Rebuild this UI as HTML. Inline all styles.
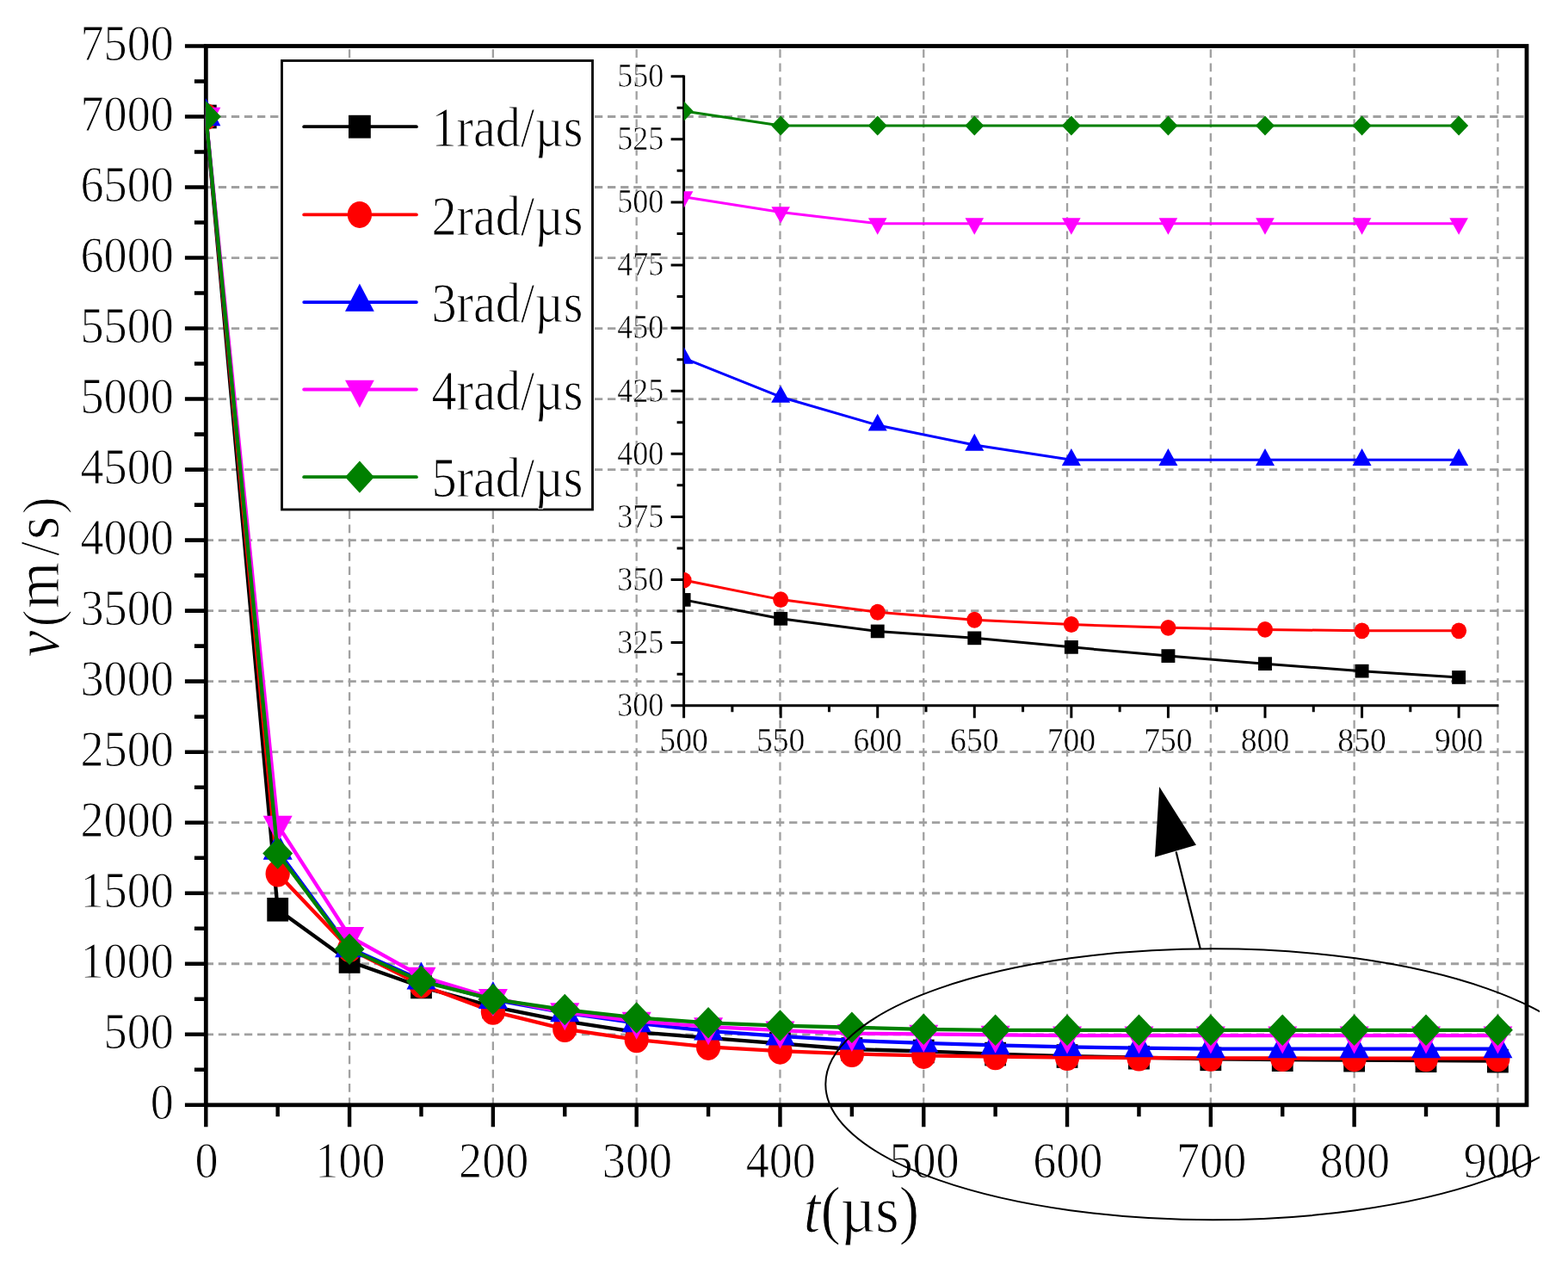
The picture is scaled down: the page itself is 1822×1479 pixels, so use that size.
<!DOCTYPE html><html><head><meta charset="utf-8"><style>html,body{margin:0;padding:0;background:#fff;}svg{display:block;}</style></head><body>
<svg width="1822" height="1479" viewBox="0 0 1822 1479" font-family="'Liberation Serif','Times New Roman',serif" stroke-width="1">
<style>text{stroke:#fff;}</style>
<defs><clipPath id="cm"><rect x="238.8" y="23.5" width="1535.2" height="1290.3"/></clipPath>
<clipPath id="ci"><rect x="794.6" y="40" width="966.9" height="779.7"/></clipPath>
<clipPath id="ce"><rect x="0" y="0" width="1789" height="1479"/></clipPath></defs>
<rect width="1822" height="1479" fill="#fff"/>
<path d="M406.09 1285V53.5M572.88 1285V53.5M739.67 1285V53.5M906.46 1285V53.5M1073.25 1285V53.5M1240.04 1285V53.5M1406.83 1285V53.5M1573.62 1285V53.5M1740.41 1285V53.5" stroke="#a0a0a0" stroke-width="2.3" stroke-dasharray="9.7 6.54" fill="none"/>
<path d="M238.7 1201.78H1774M238.7 1119.75H1774M238.7 1037.73H1774M238.7 955.71H1774M238.7 873.69H1774M238.7 791.66H1774M238.7 709.64H1774M238.7 627.62H1774M238.7 545.6H1774M238.7 463.57H1774M238.7 381.55H1774M238.7 299.53H1774M238.7 217.51H1774M238.7 135.48H1774" stroke="#a0a0a0" stroke-width="2.8" stroke-dasharray="9.3 5.775" fill="none"/>
<rect x="239.3" y="53.5" width="1534.7" height="1230.3" fill="none" stroke="#000" stroke-width="4.8"/>
<path d="M239.3 1283.8H214.9M239.3 1242.79H225.9M239.3 1201.78H214.9M239.3 1160.77H225.9M239.3 1119.75H214.9M239.3 1078.74H225.9M239.3 1037.73H214.9M239.3 996.72H225.9M239.3 955.71H214.9M239.3 914.7H225.9M239.3 873.69H214.9M239.3 832.68H225.9M239.3 791.66H214.9M239.3 750.65H225.9M239.3 709.64H214.9M239.3 668.63H225.9M239.3 627.62H214.9M239.3 586.61H225.9M239.3 545.6H214.9M239.3 504.59H225.9M239.3 463.57H214.9M239.3 422.56H225.9M239.3 381.55H214.9M239.3 340.54H225.9M239.3 299.53H214.9M239.3 258.52H225.9M239.3 217.51H214.9M239.3 176.5H225.9M239.3 135.48H214.9M239.3 94.47H225.9M239.3 53.46H214.9" stroke="#000" stroke-width="4.6" fill="none"/>
<path d="M239.3 1283.8V1309.3M322.69 1283.8V1297.3M406.09 1283.8V1309.3M489.49 1283.8V1297.3M572.88 1283.8V1309.3M656.27 1283.8V1297.3M739.67 1283.8V1309.3M823.07 1283.8V1297.3M906.46 1283.8V1309.3M989.86 1283.8V1297.3M1073.25 1283.8V1309.3M1156.64 1283.8V1297.3M1240.04 1283.8V1309.3M1323.43 1283.8V1297.3M1406.83 1283.8V1309.3M1490.22 1283.8V1297.3M1573.62 1283.8V1309.3M1657.01 1283.8V1297.3M1740.41 1283.8V1309.3" stroke="#000" stroke-width="4.4" fill="none"/>
<g clip-path="url(#cm)">
<polyline points="239.3,135.48 322.69,1056.76 406.09,1116.97 489.49,1146.49 572.88,1169.62 656.27,1186.36 739.67,1199.15 823.07,1205.88 906.46,1212.44 989.86,1219 1073.25,1221.46 1156.64,1224.58 1240.04,1227.04 1323.43,1228.68 1406.83,1230.32 1490.22,1231.14 1573.62,1231.63 1657.01,1232.13 1740.41,1232.62" fill="none" stroke="#000000" stroke-width="4.3" stroke-linejoin="round"/>
<rect x="226.9" y="121.68" width="24.8" height="27.6" fill="#000000"/>
<rect x="310.3" y="1042.96" width="24.8" height="27.6" fill="#000000"/>
<rect x="393.69" y="1103.17" width="24.8" height="27.6" fill="#000000"/>
<rect x="477.09" y="1132.69" width="24.8" height="27.6" fill="#000000"/>
<rect x="560.48" y="1155.82" width="24.8" height="27.6" fill="#000000"/>
<rect x="643.88" y="1172.56" width="24.8" height="27.6" fill="#000000"/>
<rect x="727.27" y="1185.35" width="24.8" height="27.6" fill="#000000"/>
<rect x="810.67" y="1192.08" width="24.8" height="27.6" fill="#000000"/>
<rect x="894.06" y="1198.64" width="24.8" height="27.6" fill="#000000"/>
<rect x="977.46" y="1205.2" width="24.8" height="27.6" fill="#000000"/>
<rect x="1060.85" y="1207.66" width="24.8" height="27.6" fill="#000000"/>
<rect x="1144.24" y="1210.78" width="24.8" height="27.6" fill="#000000"/>
<rect x="1227.64" y="1213.24" width="24.8" height="27.6" fill="#000000"/>
<rect x="1311.03" y="1214.88" width="24.8" height="27.6" fill="#000000"/>
<rect x="1394.43" y="1216.52" width="24.8" height="27.6" fill="#000000"/>
<rect x="1477.82" y="1217.34" width="24.8" height="27.6" fill="#000000"/>
<rect x="1561.22" y="1217.83" width="24.8" height="27.6" fill="#000000"/>
<rect x="1644.61" y="1218.33" width="24.8" height="27.6" fill="#000000"/>
<rect x="1728.01" y="1218.82" width="24.8" height="27.6" fill="#000000"/>
<polyline points="239.3,135.48 322.69,1014.93 406.09,1102.53 489.49,1144.36 572.88,1175.2 656.27,1195.54 739.67,1207.85 823.07,1216.38 906.46,1221.13 989.86,1224.42 1073.25,1226.38 1156.64,1227.68 1240.04,1228.5 1323.43,1229.01 1406.83,1229.3 1490.22,1229.52 1573.62,1229.63 1657.01,1229.71 1740.41,1229.71" fill="none" stroke="#ff0000" stroke-width="4.3" stroke-linejoin="round"/>
<ellipse cx="239.3" cy="135.48" rx="14.1" ry="15.5" fill="#ff0000"/>
<ellipse cx="322.69" cy="1014.93" rx="14.1" ry="15.5" fill="#ff0000"/>
<ellipse cx="406.09" cy="1102.53" rx="14.1" ry="15.5" fill="#ff0000"/>
<ellipse cx="489.49" cy="1144.36" rx="14.1" ry="15.5" fill="#ff0000"/>
<ellipse cx="572.88" cy="1175.2" rx="14.1" ry="15.5" fill="#ff0000"/>
<ellipse cx="656.27" cy="1195.54" rx="14.1" ry="15.5" fill="#ff0000"/>
<ellipse cx="739.67" cy="1207.85" rx="14.1" ry="15.5" fill="#ff0000"/>
<ellipse cx="823.07" cy="1216.38" rx="14.1" ry="15.5" fill="#ff0000"/>
<ellipse cx="906.46" cy="1221.13" rx="14.1" ry="15.5" fill="#ff0000"/>
<ellipse cx="989.86" cy="1224.42" rx="14.1" ry="15.5" fill="#ff0000"/>
<ellipse cx="1073.25" cy="1226.38" rx="14.1" ry="15.5" fill="#ff0000"/>
<ellipse cx="1156.64" cy="1227.68" rx="14.1" ry="15.5" fill="#ff0000"/>
<ellipse cx="1240.04" cy="1228.5" rx="14.1" ry="15.5" fill="#ff0000"/>
<ellipse cx="1323.43" cy="1229.01" rx="14.1" ry="15.5" fill="#ff0000"/>
<ellipse cx="1406.83" cy="1229.3" rx="14.1" ry="15.5" fill="#ff0000"/>
<ellipse cx="1490.22" cy="1229.52" rx="14.1" ry="15.5" fill="#ff0000"/>
<ellipse cx="1573.62" cy="1229.63" rx="14.1" ry="15.5" fill="#ff0000"/>
<ellipse cx="1657.01" cy="1229.71" rx="14.1" ry="15.5" fill="#ff0000"/>
<ellipse cx="1740.41" cy="1229.71" rx="14.1" ry="15.5" fill="#ff0000"/>
<polyline points="239.3,135.48 322.69,988.19 406.09,1101.55 489.49,1138.78 572.88,1161.42 656.27,1176.68 739.67,1188.65 823.07,1197.84 906.46,1203.91 989.86,1208.83 1073.25,1211.95 1156.64,1214.47 1240.04,1216.31 1323.43,1217.61 1406.83,1218.58 1490.22,1218.58 1573.62,1218.58 1657.01,1218.58 1740.41,1218.58" fill="none" stroke="#0000ff" stroke-width="4.3" stroke-linejoin="round"/>
<polygon points="239.3,114.15 256.3,146.15 222.3,146.15" fill="#0000ff"/>
<polygon points="322.69,966.86 339.69,998.86 305.69,998.86" fill="#0000ff"/>
<polygon points="406.09,1080.21 423.09,1112.21 389.09,1112.21" fill="#0000ff"/>
<polygon points="489.49,1117.45 506.49,1149.45 472.49,1149.45" fill="#0000ff"/>
<polygon points="572.88,1140.09 589.88,1172.09 555.88,1172.09" fill="#0000ff"/>
<polygon points="656.27,1155.35 673.27,1187.35 639.27,1187.35" fill="#0000ff"/>
<polygon points="739.67,1167.32 756.67,1199.32 722.67,1199.32" fill="#0000ff"/>
<polygon points="823.07,1176.51 840.07,1208.51 806.07,1208.51" fill="#0000ff"/>
<polygon points="906.46,1182.58 923.46,1214.58 889.46,1214.58" fill="#0000ff"/>
<polygon points="989.86,1187.5 1006.86,1219.5 972.86,1219.5" fill="#0000ff"/>
<polygon points="1073.25,1190.61 1090.25,1222.61 1056.25,1222.61" fill="#0000ff"/>
<polygon points="1156.64,1193.14 1173.64,1225.14 1139.64,1225.14" fill="#0000ff"/>
<polygon points="1240.04,1194.98 1257.04,1226.98 1223.04,1226.98" fill="#0000ff"/>
<polygon points="1323.43,1196.27 1340.43,1228.27 1306.43,1228.27" fill="#0000ff"/>
<polygon points="1406.83,1197.24 1423.83,1229.24 1389.83,1229.24" fill="#0000ff"/>
<polygon points="1490.22,1197.24 1507.22,1229.24 1473.22,1229.24" fill="#0000ff"/>
<polygon points="1573.62,1197.24 1590.62,1229.24 1556.62,1229.24" fill="#0000ff"/>
<polygon points="1657.01,1197.24 1674.01,1229.24 1640.01,1229.24" fill="#0000ff"/>
<polygon points="1740.41,1197.24 1757.41,1229.24 1723.41,1229.24" fill="#0000ff"/>
<polyline points="239.3,135.48 322.69,958.33 406.09,1087.77 489.49,1134.36 572.88,1159.62 656.27,1176.02 739.67,1186.36 823.07,1192.92 906.46,1197.18 989.86,1200.63 1073.25,1201.43 1156.64,1202.43 1240.04,1203.17 1323.43,1203.17 1406.83,1203.17 1490.22,1203.17 1573.62,1203.17 1657.01,1203.17 1740.41,1203.17" fill="none" stroke="#ff00ff" stroke-width="4.3" stroke-linejoin="round"/>
<polygon points="239.3,156.82 256.3,124.82 222.3,124.82" fill="#ff00ff"/>
<polygon points="322.69,979.67 339.69,947.67 305.69,947.67" fill="#ff00ff"/>
<polygon points="406.09,1109.1 423.09,1077.1 389.09,1077.1" fill="#ff00ff"/>
<polygon points="489.49,1155.69 506.49,1123.69 472.49,1123.69" fill="#ff00ff"/>
<polygon points="572.88,1180.95 589.88,1148.95 555.88,1148.95" fill="#ff00ff"/>
<polygon points="656.27,1197.36 673.27,1165.36 639.27,1165.36" fill="#ff00ff"/>
<polygon points="739.67,1207.69 756.67,1175.69 722.67,1175.69" fill="#ff00ff"/>
<polygon points="823.07,1214.25 840.07,1182.25 806.07,1182.25" fill="#ff00ff"/>
<polygon points="906.46,1218.52 923.46,1186.52 889.46,1186.52" fill="#ff00ff"/>
<polygon points="989.86,1221.96 1006.86,1189.96 972.86,1189.96" fill="#ff00ff"/>
<polygon points="1073.25,1222.77 1090.25,1190.77 1056.25,1190.77" fill="#ff00ff"/>
<polygon points="1156.64,1223.77 1173.64,1191.77 1139.64,1191.77" fill="#ff00ff"/>
<polygon points="1240.04,1224.51 1257.04,1192.51 1223.04,1192.51" fill="#ff00ff"/>
<polygon points="1323.43,1224.51 1340.43,1192.51 1306.43,1192.51" fill="#ff00ff"/>
<polygon points="1406.83,1224.51 1423.83,1192.51 1389.83,1192.51" fill="#ff00ff"/>
<polygon points="1490.22,1224.51 1507.22,1192.51 1473.22,1192.51" fill="#ff00ff"/>
<polygon points="1573.62,1224.51 1590.62,1192.51 1556.62,1192.51" fill="#ff00ff"/>
<polygon points="1657.01,1224.51 1674.01,1192.51 1640.01,1192.51" fill="#ff00ff"/>
<polygon points="1740.41,1224.51 1757.41,1192.51 1723.41,1192.51" fill="#ff00ff"/>
<polyline points="239.3,135.48 322.69,991.47 406.09,1102.86 489.49,1140.1 572.88,1160.93 656.27,1173.07 739.67,1182.42 823.07,1188.33 906.46,1191.61 989.86,1193.74 1073.25,1195.84 1156.64,1196.79 1240.04,1196.79 1323.43,1196.79 1406.83,1196.79 1490.22,1196.79 1573.62,1196.79 1657.01,1196.79 1740.41,1196.79" fill="none" stroke="#008000" stroke-width="4.3" stroke-linejoin="round"/>
<polygon points="239.3,117.23 256.8,135.48 239.3,153.73 221.8,135.48" fill="#008000"/>
<polygon points="322.69,973.22 340.19,991.47 322.69,1009.72 305.19,991.47" fill="#008000"/>
<polygon points="406.09,1084.61 423.59,1102.86 406.09,1121.11 388.59,1102.86" fill="#008000"/>
<polygon points="489.49,1121.85 506.99,1140.1 489.49,1158.35 471.99,1140.1" fill="#008000"/>
<polygon points="572.88,1142.68 590.38,1160.93 572.88,1179.18 555.38,1160.93" fill="#008000"/>
<polygon points="656.27,1154.82 673.77,1173.07 656.27,1191.32 638.77,1173.07" fill="#008000"/>
<polygon points="739.67,1164.17 757.17,1182.42 739.67,1200.67 722.17,1182.42" fill="#008000"/>
<polygon points="823.07,1170.08 840.57,1188.33 823.07,1206.58 805.57,1188.33" fill="#008000"/>
<polygon points="906.46,1173.36 923.96,1191.61 906.46,1209.86 888.96,1191.61" fill="#008000"/>
<polygon points="989.86,1175.49 1007.36,1193.74 989.86,1211.99 972.36,1193.74" fill="#008000"/>
<polygon points="1073.25,1177.59 1090.75,1195.84 1073.25,1214.09 1055.75,1195.84" fill="#008000"/>
<polygon points="1156.64,1178.54 1174.14,1196.79 1156.64,1215.04 1139.14,1196.79" fill="#008000"/>
<polygon points="1240.04,1178.54 1257.54,1196.79 1240.04,1215.04 1222.54,1196.79" fill="#008000"/>
<polygon points="1323.43,1178.54 1340.93,1196.79 1323.43,1215.04 1305.93,1196.79" fill="#008000"/>
<polygon points="1406.83,1178.54 1424.33,1196.79 1406.83,1215.04 1389.33,1196.79" fill="#008000"/>
<polygon points="1490.22,1178.54 1507.72,1196.79 1490.22,1215.04 1472.72,1196.79" fill="#008000"/>
<polygon points="1573.62,1178.54 1591.12,1196.79 1573.62,1215.04 1556.12,1196.79" fill="#008000"/>
<polygon points="1657.01,1178.54 1674.51,1196.79 1657.01,1215.04 1639.51,1196.79" fill="#008000"/>
<polygon points="1740.41,1178.54 1757.91,1196.79 1740.41,1215.04 1722.91,1196.79" fill="#008000"/>
</g>
<text transform="translate(201.8,1300.1) scale(0.91,1)" font-size="59.5" text-anchor="end">0</text>
<text transform="translate(201.8,1218.08) scale(0.91,1)" font-size="59.5" text-anchor="end">500</text>
<text transform="translate(201.8,1136.05) scale(0.91,1)" font-size="59.5" text-anchor="end">1000</text>
<text transform="translate(201.8,1054.03) scale(0.91,1)" font-size="59.5" text-anchor="end">1500</text>
<text transform="translate(201.8,972.01) scale(0.91,1)" font-size="59.5" text-anchor="end">2000</text>
<text transform="translate(201.8,889.99) scale(0.91,1)" font-size="59.5" text-anchor="end">2500</text>
<text transform="translate(201.8,807.96) scale(0.91,1)" font-size="59.5" text-anchor="end">3000</text>
<text transform="translate(201.8,725.94) scale(0.91,1)" font-size="59.5" text-anchor="end">3500</text>
<text transform="translate(201.8,643.92) scale(0.91,1)" font-size="59.5" text-anchor="end">4000</text>
<text transform="translate(201.8,561.9) scale(0.91,1)" font-size="59.5" text-anchor="end">4500</text>
<text transform="translate(201.8,479.87) scale(0.91,1)" font-size="59.5" text-anchor="end">5000</text>
<text transform="translate(201.8,397.85) scale(0.91,1)" font-size="59.5" text-anchor="end">5500</text>
<text transform="translate(201.8,315.83) scale(0.91,1)" font-size="59.5" text-anchor="end">6000</text>
<text transform="translate(201.8,233.81) scale(0.91,1)" font-size="59.5" text-anchor="end">6500</text>
<text transform="translate(201.8,151.78) scale(0.91,1)" font-size="59.5" text-anchor="end">7000</text>
<text transform="translate(201.8,69.76) scale(0.91,1)" font-size="59.5" text-anchor="end">7500</text>
<text transform="translate(240.1,1368.1) scale(0.91,1)" font-size="59.5" text-anchor="middle">0</text>
<text transform="translate(406.89,1368.1) scale(0.91,1)" font-size="59.5" text-anchor="middle">100</text>
<text transform="translate(573.68,1368.1) scale(0.91,1)" font-size="59.5" text-anchor="middle">200</text>
<text transform="translate(740.47,1368.1) scale(0.91,1)" font-size="59.5" text-anchor="middle">300</text>
<text transform="translate(907.26,1368.1) scale(0.91,1)" font-size="59.5" text-anchor="middle">400</text>
<text transform="translate(1074.05,1368.1) scale(0.91,1)" font-size="59.5" text-anchor="middle">500</text>
<text transform="translate(1240.84,1368.1) scale(0.91,1)" font-size="59.5" text-anchor="middle">600</text>
<text transform="translate(1407.63,1368.1) scale(0.91,1)" font-size="59.5" text-anchor="middle">700</text>
<text transform="translate(1574.42,1368.1) scale(0.91,1)" font-size="59.5" text-anchor="middle">800</text>
<text transform="translate(1741.21,1368.1) scale(0.91,1)" font-size="59.5" text-anchor="middle">900</text>
<text transform="translate(1001,1431) scale(0.926,1)" font-size="76" text-anchor="middle"><tspan font-style="italic">t</tspan>(µs)</text>
<text transform="translate(68,763) scale(1.057,1) rotate(-90)" font-size="70"><tspan x="-0.58" font-style="italic">v</tspan><tspan x="34.7" dy="1.9" font-size="60">(</tspan><tspan x="55.7" dy="-1.9">m</tspan><tspan x="117" font-size="61">/</tspan><tspan x="136.1">s</tspan><tspan x="165.8" dy="1.9" font-size="60">)</tspan></text>
<rect x="327.5" y="70.5" width="361" height="521.5" fill="#fff" stroke="#000" stroke-width="2.8"/>
<line x1="353.2" y1="147.2" x2="483.9" y2="147.2" stroke="#000000" stroke-width="3.8" stroke-linecap="round"/>
<rect x="405" y="133.8" width="25.8" height="26.8" fill="#000000"/>
<text transform="translate(501.4,170.4) scale(0.9,1)" font-size="64.8" text-anchor="start">1rad/µs</text>
<line x1="353.2" y1="249.4" x2="483.9" y2="249.4" stroke="#ff0000" stroke-width="3.8" stroke-linecap="round"/>
<ellipse cx="417.9" cy="249.4" rx="14.1" ry="15.5" fill="#ff0000"/>
<text transform="translate(501.4,272.6) scale(0.9,1)" font-size="64.8" text-anchor="start">2rad/µs</text>
<line x1="353.2" y1="351.1" x2="483.9" y2="351.1" stroke="#0000ff" stroke-width="3.8" stroke-linecap="round"/>
<polygon points="417.9,329.57 434.8,361.87 401,361.87" fill="#0000ff"/>
<text transform="translate(501.4,374.3) scale(0.9,1)" font-size="64.8" text-anchor="start">3rad/µs</text>
<line x1="353.2" y1="452.5" x2="483.9" y2="452.5" stroke="#ff00ff" stroke-width="3.8" stroke-linecap="round"/>
<polygon points="417.9,473.83 434.8,441.83 401,441.83" fill="#ff00ff"/>
<text transform="translate(501.4,475.7) scale(0.9,1)" font-size="64.8" text-anchor="start">4rad/µs</text>
<line x1="353.2" y1="554.2" x2="483.9" y2="554.2" stroke="#008000" stroke-width="3.8" stroke-linecap="round"/>
<polygon points="417.9,535.6 434.8,554.2 417.9,572.8 401,554.2" fill="#008000"/>
<text transform="translate(501.4,577.4) scale(0.9,1)" font-size="64.8" text-anchor="start">5rad/µs</text>
<path d="M794.6 87.5V819.7H1741.5" stroke="#000" stroke-width="3" fill="none"/>
<path d="M794.6 819.7H779.6M794.6 783.15H786.6M794.6 746.6H779.6M794.6 710.05H786.6M794.6 673.5H779.6M794.6 636.95H786.6M794.6 600.4H779.6M794.6 563.85H786.6M794.6 527.3H779.6M794.6 490.75H786.6M794.6 454.2H779.6M794.6 417.65H786.6M794.6 381.1H779.6M794.6 344.55H786.6M794.6 308H779.6M794.6 271.45H786.6M794.6 234.9H779.6M794.6 198.35H786.6M794.6 161.8H779.6M794.6 125.25H786.6M794.6 88.7H779.6M794.6 819.7V834.3M850.88 819.7V827.3M907.16 819.7V834.3M963.45 819.7V827.3M1019.73 819.7V834.3M1076.01 819.7V827.3M1132.3 819.7V834.3M1188.58 819.7V827.3M1244.86 819.7V834.3M1301.14 819.7V827.3M1357.43 819.7V834.3M1413.71 819.7V827.3M1469.99 819.7V834.3M1526.27 819.7V827.3M1582.56 819.7V834.3M1638.84 819.7V827.3M1695.12 819.7V834.3" stroke="#000" stroke-width="3" fill="none"/>
<text transform="translate(771.2,832) scale(0.89,1)" font-size="40.5" text-anchor="end" stroke-width="0.6">300</text>
<text transform="translate(771.2,758.9) scale(0.89,1)" font-size="40.5" text-anchor="end" stroke-width="0.6">325</text>
<text transform="translate(771.2,685.8) scale(0.89,1)" font-size="40.5" text-anchor="end" stroke-width="0.6">350</text>
<text transform="translate(771.2,612.7) scale(0.89,1)" font-size="40.5" text-anchor="end" stroke-width="0.6">375</text>
<text transform="translate(771.2,539.6) scale(0.89,1)" font-size="40.5" text-anchor="end" stroke-width="0.6">400</text>
<text transform="translate(771.2,466.5) scale(0.89,1)" font-size="40.5" text-anchor="end" stroke-width="0.6">425</text>
<text transform="translate(771.2,393.4) scale(0.89,1)" font-size="40.5" text-anchor="end" stroke-width="0.6">450</text>
<text transform="translate(771.2,320.3) scale(0.89,1)" font-size="40.5" text-anchor="end" stroke-width="0.6">475</text>
<text transform="translate(771.2,247.2) scale(0.89,1)" font-size="40.5" text-anchor="end" stroke-width="0.6">500</text>
<text transform="translate(771.2,174.1) scale(0.89,1)" font-size="40.5" text-anchor="end" stroke-width="0.6">525</text>
<text transform="translate(771.2,101) scale(0.89,1)" font-size="40.5" text-anchor="end" stroke-width="0.6">550</text>
<text transform="translate(794.6,873.2) scale(0.93,1)" font-size="40.5" text-anchor="middle" stroke-width="0.5">500</text>
<text transform="translate(907.16,873.2) scale(0.93,1)" font-size="40.5" text-anchor="middle" stroke-width="0.5">550</text>
<text transform="translate(1019.73,873.2) scale(0.93,1)" font-size="40.5" text-anchor="middle" stroke-width="0.5">600</text>
<text transform="translate(1132.3,873.2) scale(0.93,1)" font-size="40.5" text-anchor="middle" stroke-width="0.5">650</text>
<text transform="translate(1244.86,873.2) scale(0.93,1)" font-size="40.5" text-anchor="middle" stroke-width="0.5">700</text>
<text transform="translate(1357.43,873.2) scale(0.93,1)" font-size="40.5" text-anchor="middle" stroke-width="0.5">750</text>
<text transform="translate(1469.99,873.2) scale(0.93,1)" font-size="40.5" text-anchor="middle" stroke-width="0.5">800</text>
<text transform="translate(1582.56,873.2) scale(0.93,1)" font-size="40.5" text-anchor="middle" stroke-width="0.5">850</text>
<text transform="translate(1695.12,873.2) scale(0.93,1)" font-size="40.5" text-anchor="middle" stroke-width="0.5">900</text>
<g clip-path="url(#ci)">
<polyline points="794.6,696.89 907.16,718.82 1019.73,733.44 1132.3,741.34 1244.86,751.86 1357.43,762.1 1469.99,771.16 1582.56,779.64 1695.12,786.95" fill="none" stroke="#000000" stroke-width="3" stroke-linejoin="round"/>
<rect x="786.65" y="689.04" width="15.9" height="15.7" fill="#000000"/>
<rect x="899.21" y="710.97" width="15.9" height="15.7" fill="#000000"/>
<rect x="1011.78" y="725.59" width="15.9" height="15.7" fill="#000000"/>
<rect x="1124.35" y="733.49" width="15.9" height="15.7" fill="#000000"/>
<rect x="1236.91" y="744.01" width="15.9" height="15.7" fill="#000000"/>
<rect x="1349.48" y="754.25" width="15.9" height="15.7" fill="#000000"/>
<rect x="1462.04" y="763.31" width="15.9" height="15.7" fill="#000000"/>
<rect x="1574.61" y="771.79" width="15.9" height="15.7" fill="#000000"/>
<rect x="1687.17" y="779.1" width="15.9" height="15.7" fill="#000000"/>
<polyline points="794.6,674.08 907.16,696.6 1019.73,711.22 1132.3,720.28 1244.86,725.55 1357.43,729.35 1469.99,731.4 1582.56,732.86 1695.12,732.86" fill="none" stroke="#ff0000" stroke-width="3" stroke-linejoin="round"/>
<ellipse cx="794.6" cy="674.08" rx="9" ry="9.45" fill="#ff0000"/>
<ellipse cx="907.16" cy="696.6" rx="9" ry="9.45" fill="#ff0000"/>
<ellipse cx="1019.73" cy="711.22" rx="9" ry="9.45" fill="#ff0000"/>
<ellipse cx="1132.3" cy="720.28" rx="9" ry="9.45" fill="#ff0000"/>
<ellipse cx="1244.86" cy="725.55" rx="9" ry="9.45" fill="#ff0000"/>
<ellipse cx="1357.43" cy="729.35" rx="9" ry="9.45" fill="#ff0000"/>
<ellipse cx="1469.99" cy="731.4" rx="9" ry="9.45" fill="#ff0000"/>
<ellipse cx="1582.56" cy="732.86" rx="9" ry="9.45" fill="#ff0000"/>
<ellipse cx="1695.12" cy="732.86" rx="9" ry="9.45" fill="#ff0000"/>
<polyline points="794.6,416.19 907.16,461.22 1019.73,493.97 1132.3,517.07 1244.86,534.32 1357.43,534.32 1469.99,534.32 1582.56,534.32 1695.12,534.32" fill="none" stroke="#0000ff" stroke-width="3" stroke-linejoin="round"/>
<polygon points="794.6,402.99 805.6,422.79 783.6,422.79" fill="#0000ff"/>
<polygon points="907.16,448.02 918.16,467.82 896.16,467.82" fill="#0000ff"/>
<polygon points="1019.73,480.77 1030.73,500.57 1008.73,500.57" fill="#0000ff"/>
<polygon points="1132.3,503.87 1143.3,523.67 1121.3,523.67" fill="#0000ff"/>
<polygon points="1244.86,521.12 1255.86,540.92 1233.86,540.92" fill="#0000ff"/>
<polygon points="1357.43,521.12 1368.43,540.92 1346.43,540.92" fill="#0000ff"/>
<polygon points="1469.99,521.12 1480.99,540.92 1458.99,540.92" fill="#0000ff"/>
<polygon points="1582.56,521.12 1593.56,540.92 1571.56,540.92" fill="#0000ff"/>
<polygon points="1695.12,521.12 1706.12,540.92 1684.12,540.92" fill="#0000ff"/>
<polyline points="794.6,228.76 907.16,246.6 1019.73,259.75 1132.3,259.75 1244.86,259.75 1357.43,259.75 1469.99,259.75 1582.56,259.75 1695.12,259.75" fill="none" stroke="#ff00ff" stroke-width="3" stroke-linejoin="round"/>
<polygon points="794.6,241.69 805.4,222.29 783.8,222.29" fill="#ff00ff"/>
<polygon points="907.16,259.53 917.96,240.13 896.37,240.13" fill="#ff00ff"/>
<polygon points="1019.73,272.69 1030.53,253.29 1008.93,253.29" fill="#ff00ff"/>
<polygon points="1132.3,272.69 1143.1,253.29 1121.5,253.29" fill="#ff00ff"/>
<polygon points="1244.86,272.69 1255.66,253.29 1234.06,253.29" fill="#ff00ff"/>
<polygon points="1357.43,272.69 1368.23,253.29 1346.63,253.29" fill="#ff00ff"/>
<polygon points="1469.99,272.69 1480.79,253.29 1459.19,253.29" fill="#ff00ff"/>
<polygon points="1582.56,272.69 1593.36,253.29 1571.76,253.29" fill="#ff00ff"/>
<polygon points="1695.12,272.69 1705.92,253.29 1684.32,253.29" fill="#ff00ff"/>
<polyline points="794.6,129.05 907.16,146.01 1019.73,146.01 1132.3,146.01 1244.86,146.01 1357.43,146.01 1469.99,146.01 1582.56,146.01 1695.12,146.01" fill="none" stroke="#008000" stroke-width="3" stroke-linejoin="round"/>
<polygon points="794.6,117.45 805.6,129.05 794.6,140.65 783.6,129.05" fill="#008000"/>
<polygon points="907.16,134.41 918.16,146.01 907.16,157.61 896.16,146.01" fill="#008000"/>
<polygon points="1019.73,134.41 1030.73,146.01 1019.73,157.61 1008.73,146.01" fill="#008000"/>
<polygon points="1132.3,134.41 1143.3,146.01 1132.3,157.61 1121.3,146.01" fill="#008000"/>
<polygon points="1244.86,134.41 1255.86,146.01 1244.86,157.61 1233.86,146.01" fill="#008000"/>
<polygon points="1357.43,134.41 1368.43,146.01 1357.43,157.61 1346.43,146.01" fill="#008000"/>
<polygon points="1469.99,134.41 1480.99,146.01 1469.99,157.61 1458.99,146.01" fill="#008000"/>
<polygon points="1582.56,134.41 1593.56,146.01 1582.56,157.61 1571.56,146.01" fill="#008000"/>
<polygon points="1695.12,134.41 1706.12,146.01 1695.12,157.61 1684.12,146.01" fill="#008000"/>
</g>
<ellipse cx="1409.3" cy="1259.8" rx="450" ry="157.5" fill="none" stroke="#000" stroke-width="2" clip-path="url(#ce)"/>
<line x1="1394.9" y1="1102.8" x2="1366.6" y2="989.6" stroke="#000" stroke-width="2.2"/>
<polygon points="1347.1,914.1 1389.9,981.8 1342,995.8" fill="#000"/>
</svg></body></html>
